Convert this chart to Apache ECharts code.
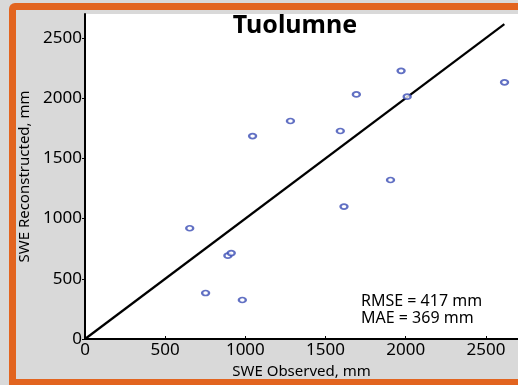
<!DOCTYPE html>
<html>
<head>
<meta charset="utf-8">
<script src="https://cdn.jsdelivr.net/npm/echarts@6/dist/echarts.min.js"></script>
<style>
html,body{margin:0;padding:0;background:#d9d9d9;}
#main{width:518px;height:385px;}
</style>
</head>
<body>
<div id="main"></div>
<script>
// Observed SWE (mm) and reconstructed SWE (mm)
const observed      = [653, 752, 891, 912, 981, 1045, 1281, 1592, 1615, 1692, 1905, 1971, 2009, 2616];
const reconstructed = [920, 382, 692, 714, 324, 1686, 1811, 1728, 1100, 2032, 1321, 2228, 2013, 2132];
const oneToOne      = [0, 2615];
const titleText = 'Tuolumne';
const statsLines = ['RMSE = 417 mm', 'MAE = 369 mm'];
const xName = 'SWE Observed, mm';
const yName = 'SWE Reconstructed, mm';

const FONT = 'Noto Sans';
const chart = echarts.init(document.getElementById('main'), null, {renderer: 'canvas'});
chart.setOption({
  backgroundColor: '#d9d9d9',
  animation: false,
  title: {
    text: titleText, left: 290, top: 8, textAlign: 'center',
    textStyle: {fontFamily: FONT, fontWeight: 'bold', fontSize: 25, color: '#000'}
  },
  graphic: [
    {type: 'rect', z: -10, shape: {x: 9, y: 3, width: 530, height: 390, r: 6}, style: {fill: '#e2641f'}},
    {type: 'rect', z: -9, shape: {x: 16, y: 10, width: 520, height: 369}, style: {fill: '#d9d9d9'}},
    {type: 'text', z: 10, left: 361, top: 293,
     style: {text: statsLines.join('\n'), font: '16px "Noto Sans"', fill: '#000', lineHeight: 17}}
  ],
  grid: {left: 85, top: 14, width: 434, height: 325, show: true, backgroundColor: '#fff', borderWidth: 0},
  xAxis: {
    type: 'value', min: 0, max: 2700, interval: 500,
    name: xName, nameLocation: 'middle', nameGap: 21,
    nameTextStyle: {fontFamily: FONT, fontSize: 15, color: '#000'},
    axisLine: {show: true, onZero: false, lineStyle: {color: '#000', width: 2}},
    axisTick: {show: true, inside: true, length: 3, lineStyle: {color: '#000', width: 1}},
    axisLabel: {fontFamily: FONT, fontSize: 17, color: '#000', margin: 3, showMaxLabel: false,
                formatter: v => String(v)},
    splitLine: {show: false}
  },
  yAxis: {
    type: 'value', min: 0, max: 2700, interval: 500,
    name: yName, nameLocation: 'middle', nameGap: 47,
    nameTextStyle: {fontFamily: FONT, fontSize: 15, color: '#000'},
    axisLine: {show: true, onZero: false, lineStyle: {color: '#000', width: 2}},
    axisTick: {show: true, inside: false, length: 3, lineStyle: {color: '#000', width: 1}},
    axisLabel: {fontFamily: FONT, fontSize: 17, color: '#000', margin: 3, showMaxLabel: false,
                formatter: v => String(v)},
    splitLine: {show: false}
  },
  series: [
    {
      type: 'line', data: oneToOne.map(v => [v, v]), showSymbol: false, symbol: 'none',
      lineStyle: {color: '#000', width: 2.2}, silent: true, z: 3
    },
    {
      type: 'scatter', data: observed.map((v, i) => [v, reconstructed[i]]),
      symbol: 'emptyCircle', symbolSize: [7, 5],
      itemStyle: {color: '#3a4cb4', borderColor: '#3a4cb4', borderWidth: 1.3}, z: 4
    }
  ]
});
</script>
</body>
</html>
